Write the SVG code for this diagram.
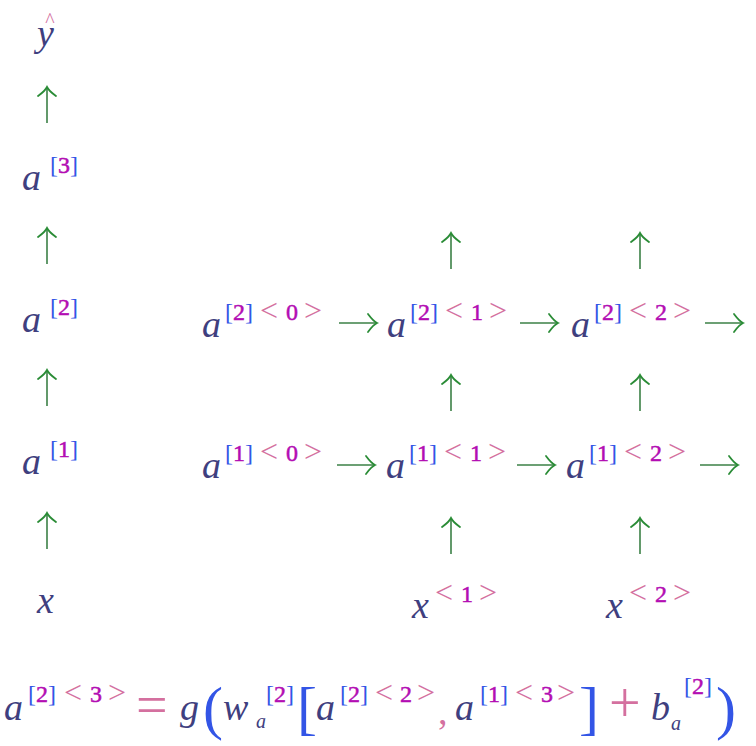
<svg xmlns="http://www.w3.org/2000/svg" xmlns:xlink="http://www.w3.org/1999/xlink" width="756" height="746" viewBox="0 0 756 746">
<style>
text{font-family:"Liberation Serif","DejaVu Serif",serif}
.v{font-family:"Liberation Serif","DejaVu Serif",serif;font-style:italic;font-size:38px;fill:#3f3f7f}
.vs{font-family:"Liberation Serif","DejaVu Serif",serif;font-style:italic;font-size:20px;fill:#3f3f7f}
.b{font-size:24px;fill:#3355e6}
.d{fill:#b30db3;font-size:24px;stroke:#b30db3;stroke-width:0.5}
.p{font-size:32px;fill:#d4709f}
.pb{font-size:56px;fill:#d4709f}
.bb{font-size:60px;fill:#3355e6}
.ar{fill:none;stroke:#2a8c36;stroke-width:1.8;stroke-linecap:round}
.sh{fill:none;stroke:#3b8046;stroke-width:1.6}
</style>
<defs>
<g id="up"><path class="sh" d="M0,1 V36"/><path class="ar" d="M-9,9 C-5,6 -2,4 0,0 C2,4 5,6 9,9"/></g>
<g id="rt"><path class="sh" d="M-38,0 H-1"/><path class="ar" d="M-9,-9 C-6,-5 -4,-2 0,0 C-4,2 -6,5 -9,9"/></g>
</defs>
<rect width="756" height="746" fill="#ffffff"/>

<g id="connectors">
<use xlink:href="#up" x="47" y="87"/>
<use xlink:href="#up" x="47" y="228"/>
<use xlink:href="#up" x="47" y="370"/>
<use xlink:href="#up" x="47" y="513"/>
<use xlink:href="#up" x="451" y="233"/>
<use xlink:href="#up" x="640" y="233"/>
<use xlink:href="#up" x="451" y="375"/>
<use xlink:href="#up" x="640" y="375"/>
<use xlink:href="#up" x="451" y="518"/>
<use xlink:href="#up" x="640" y="518"/>
<use xlink:href="#rt" x="377" y="323"/>
<use xlink:href="#rt" x="558" y="323"/>
<use xlink:href="#rt" x="743" y="323"/>
<use xlink:href="#rt" x="375" y="465"/>
<use xlink:href="#rt" x="555" y="465"/>
<use xlink:href="#rt" x="738" y="465"/>
</g>

<g id="yhat">
<text class="v" x="37" y="46">y</text>
<text x="50" y="27" text-anchor="middle" style="font-size:20px;fill:#d4709f">^</text>
</g>
<g id="a3" transform="translate(22,190)">
<text class="v" x="0" y="0">a</text>
<text class="b" x="28" y="-17">[<tspan class="d">3</tspan>]</text>
</g>
<g id="a2" transform="translate(22,332)">
<text class="v" x="0" y="0">a</text>
<text class="b" x="28" y="-17">[<tspan class="d">2</tspan>]</text>
</g>
<g id="a1" transform="translate(22,474)">
<text class="v" x="0" y="0">a</text>
<text class="b" x="28" y="-17">[<tspan class="d">1</tspan>]</text>
</g>
<g id="x">
<text class="v" x="37" y="613">x</text>
</g>

<g id="a2_0" transform="translate(202,337)">
<text class="v" x="0" y="0">a</text>
<text class="b" x="23" y="-17">[<tspan class="d">2</tspan>]</text>
<text class="p" x="58" y="-16">&lt;</text><text class="d" x="84" y="-17">0</text><text class="p" x="102" y="-16">&gt;</text>
</g>
<g id="a2_1" transform="translate(387,337)">
<text class="v" x="0" y="0">a</text>
<text class="b" x="23" y="-17">[<tspan class="d">2</tspan>]</text>
<text class="p" x="58" y="-16">&lt;</text><text class="d" x="84" y="-17">1</text><text class="p" x="102" y="-16">&gt;</text>
</g>
<g id="a2_2" transform="translate(571,337)">
<text class="v" x="0" y="0">a</text>
<text class="b" x="23" y="-17">[<tspan class="d">2</tspan>]</text>
<text class="p" x="58" y="-16">&lt;</text><text class="d" x="84" y="-17">2</text><text class="p" x="102" y="-16">&gt;</text>
</g>
<g id="a1_0" transform="translate(202,478)">
<text class="v" x="0" y="0">a</text>
<text class="b" x="23" y="-17">[<tspan class="d">1</tspan>]</text>
<text class="p" x="58" y="-16">&lt;</text><text class="d" x="84" y="-17">0</text><text class="p" x="102" y="-16">&gt;</text>
</g>
<g id="a1_1" transform="translate(386,478)">
<text class="v" x="0" y="0">a</text>
<text class="b" x="23" y="-17">[<tspan class="d">1</tspan>]</text>
<text class="p" x="58" y="-16">&lt;</text><text class="d" x="84" y="-17">1</text><text class="p" x="102" y="-16">&gt;</text>
</g>
<g id="a1_2" transform="translate(566,478)">
<text class="v" x="0" y="0">a</text>
<text class="b" x="23" y="-17">[<tspan class="d">1</tspan>]</text>
<text class="p" x="58" y="-16">&lt;</text><text class="d" x="84" y="-17">2</text><text class="p" x="102" y="-16">&gt;</text>
</g>
<g id="x_1" transform="translate(412,618)">
<text class="v" x="0" y="0">x</text>
<text class="p" x="23" y="-15">&lt;</text><text class="d" x="49" y="-16">1</text><text class="p" x="67" y="-15">&gt;</text>
</g>
<g id="x_2" transform="translate(606,618)">
<text class="v" x="0" y="0">x</text>
<text class="p" x="23" y="-15">&lt;</text><text class="d" x="49" y="-16">2</text><text class="p" x="67" y="-15">&gt;</text>
</g>

<g id="equation">
<text class="v" x="4" y="720">a</text>
<text class="b" x="28" y="702">[<tspan class="d">2</tspan>]</text>
<text class="p" x="64" y="703">&lt;</text><text class="d" x="90" y="702">3</text><text class="p" x="108" y="703">&gt;</text>
<text class="pb" x="136" y="724">=</text>
<text class="v" x="180" y="720">g</text>
<text class="bb" x="203" y="728">(</text>
<text class="v" x="223" y="720">w</text>
<text class="vs" x="256" y="728">a</text>
<text class="b" x="266" y="702">[<tspan class="d">2</tspan>]</text>
<text class="bb" x="297" y="728">[</text>
<text class="v" x="316" y="720">a</text>
<text class="b" x="340" y="702">[<tspan class="d">2</tspan>]</text>
<text class="p" x="375" y="703">&lt;</text><text class="d" x="400" y="702">2</text><text class="p" x="417" y="703">&gt;</text>
<text x="438" y="724" style="font-size:38px;fill:#d4709f">,</text>
<text class="v" x="455" y="720">a</text>
<text class="b" x="480" y="702">[<tspan class="d">1</tspan>]</text>
<text class="p" x="515" y="703">&lt;</text><text class="d" x="541" y="702">3</text><text class="p" x="557" y="703">&gt;</text>
<text class="bb" x="579" y="728">]</text>
<text class="pb" x="609" y="722">+</text>
<text class="v" x="651" y="720">b</text>
<text class="vs" x="671" y="730">a</text>
<text class="b" x="684" y="694">[<tspan class="d">2</tspan>]</text>
<text class="bb" x="716" y="728">)</text>
</g>
</svg>
